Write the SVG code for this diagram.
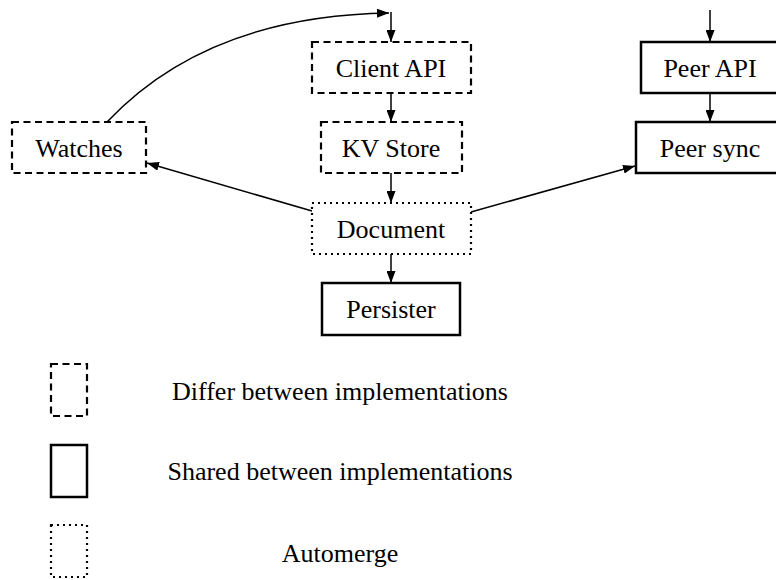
<svg xmlns="http://www.w3.org/2000/svg" width="776" height="580" viewBox="0 0 776 580">
<defs>
<marker id="arr" viewBox="0 0 12 9" refX="12" refY="4.5" markerWidth="12" markerHeight="9" markerUnits="userSpaceOnUse" orient="auto">
<path d="M0,0 L12,4.5 L0,9 z" fill="#000"/>
</marker>
</defs>
<style>
.box{fill:#fff;stroke:#000}
.dash{stroke-width:2.2;stroke-dasharray:7,4.5}
.solid{stroke-width:2.5}
.dot{stroke-width:2.2;stroke-dasharray:2,4}
.lbl{font-size:26px;fill:#000;text-anchor:middle}
.edge{fill:none;stroke:#000;stroke-width:1.5;marker-end:url(#arr)}
</style>
<g id="connectors">
<path class="edge" d="M107,122 C170,55 260,15 389,13"/>
<line class="edge" x1="391" y1="12" x2="391" y2="42"/>
<line class="edge" x1="710" y1="10" x2="710" y2="42"/>
<line class="edge" x1="391" y1="93" x2="391" y2="122"/>
<line class="edge" x1="710" y1="93" x2="710" y2="122"/>
<line class="edge" x1="391" y1="173" x2="391" y2="203"/>
<line class="edge" x1="391" y1="254" x2="391" y2="283"/>
<line class="edge" x1="312" y1="211" x2="147" y2="163"/>
<line class="edge" x1="471" y1="212" x2="635" y2="166"/>
</g>
<g font-family="'Liberation Serif', 'DejaVu Serif', serif">
<g id="client-api"><rect class="box dash" x="312" y="42" width="159" height="51"/><text class="lbl" x="391" y="77">Client API</text></g>
<g id="kv-store"><rect class="box dash" x="321" y="122" width="141" height="51"/><text class="lbl" x="391" y="157">KV Store</text></g>
<g id="watches"><rect class="box dash" x="12" y="122" width="134" height="51"/><text class="lbl" x="79" y="157">Watches</text></g>
<g id="peer-api"><rect class="box solid" x="641" y="42" width="150" height="51"/><text class="lbl" x="710" y="77">Peer API</text></g>
<g id="peer-sync"><rect class="box solid" x="636" y="122" width="155" height="51"/><text class="lbl" x="710" y="157">Peer sync</text></g>
<g id="document"><rect class="box dot" x="312" y="203" width="159" height="51"/><text class="lbl" x="391" y="238">Document</text></g>
<g id="persister"><rect class="box solid" x="322" y="283" width="138" height="52"/><text class="lbl" x="391" y="318">Persister</text></g>
<g id="legend">
<rect class="box dash" x="51" y="364" width="36" height="52"/>
<text class="lbl" x="340" y="400">Differ between implementations</text>
<rect class="box solid" x="51" y="445" width="36" height="52"/>
<text class="lbl" x="340" y="480">Shared between implementations</text>
<rect class="box dot" x="51" y="525" width="36" height="52"/>
<text class="lbl" x="340" y="562">Automerge</text>
</g>
</g>
</svg>
